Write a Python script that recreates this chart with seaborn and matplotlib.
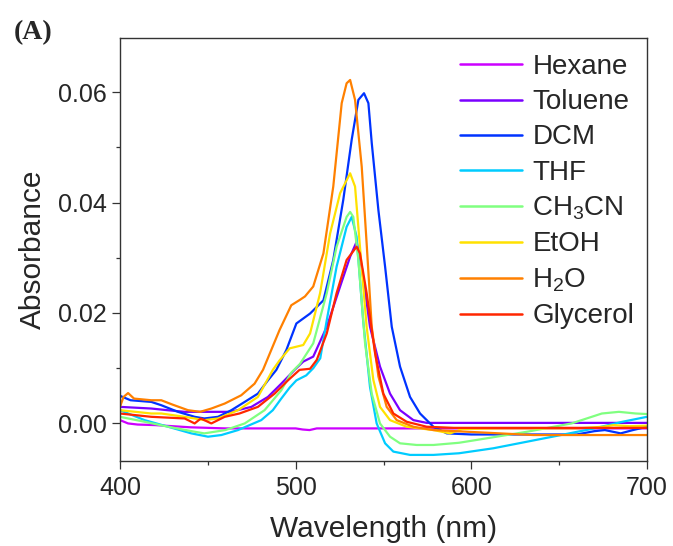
import matplotlib
matplotlib.use('Agg')
import matplotlib.pyplot as plt
from matplotlib.ticker import MultipleLocator
import seaborn as sns
import pandas as pd

# solvent names and colours
solvents = ['Hexane', 'Toluene', 'DCM', 'THF', 'CH3CN', 'EtOH', 'H2O', 'Glycerol']
legend_labels = ['Hexane', 'Toluene', 'DCM', 'THF', r'CH$_3$CN', 'EtOH', r'H$_2$O', 'Glycerol']
colors = ['#cc00ff', '#7a00ff', '#0033ff', '#00ccff', '#80ff80', '#ffe100', '#ff8000', '#ff2600']

# spectra (wavelength nm, absorbance)
wl_hexane = [400, 404.6, 410, 420, 440, 460, 480, 500, 504, 507.9, 512, 530, 560, 600, 650, 700]
abs_hexane = [0.0006, 0.0000, -0.0002, -0.0003, -0.0007, -0.0009, -0.0009, -0.0009, -0.0011, -0.0012,
              -0.0009, -0.0009, -0.0009, -0.0009, -0.0009, -0.0009]

wl_toluene = [400, 417.8, 427, 436.8, 450, 463, 474.8, 484.2, 491.8, 499.4, 504.3, 510, 517.7, 525.3, 531,
              534.7, 537.6, 542.3, 548, 553.7, 559.4, 567, 574.6, 580, 620, 660, 700]
abs_toluene = [0.0030, 0.0027, 0.0024, 0.0021, 0.0021, 0.0021, 0.0030, 0.0048, 0.0072, 0.0097, 0.0112, 0.0121,
               0.0175, 0.0248, 0.0302, 0.0329, 0.0284, 0.0175, 0.0103, 0.0054, 0.0024, 0.0006, 0.0001, 0.0001,
               0.0001, 0.0001, 0.0001]

wl_dcm = [400, 406, 417.8, 423.5, 433, 442.5, 448, 455.8, 463.4, 471, 478.5, 484.2, 489, 494.7, 500.4, 508.2,
          515.8, 521.4, 527.1, 531.9, 535.7, 538.9, 541.4, 543.3, 547.1, 550.9, 554.7, 559.4, 565.1, 570.8,
          578.4, 586, 600, 630, 660, 670, 676, 685, 692, 700]
abs_dcm = [0.0050, 0.0042, 0.0039, 0.0033, 0.0021, 0.0012, 0.0009, 0.0012, 0.0024, 0.0039, 0.0054, 0.0078,
           0.0097, 0.0133, 0.0181, 0.0199, 0.0223, 0.0296, 0.0405, 0.0514, 0.0586, 0.0598, 0.0580, 0.0508,
           0.0386, 0.0284, 0.0175, 0.0103, 0.0048, 0.0018, -0.0006, -0.0018, -0.0020, -0.0020, -0.0020,
           -0.0014, -0.0012, -0.0018, -0.0012, -0.0006]

wl_thf = [400, 414, 427.4, 440.6, 450.1, 457.7, 467.2, 480.4, 487, 491.8, 496.6, 500.4, 506, 510, 514, 517.7,
          523.3, 529, 531.9, 534.7, 538.4, 542.3, 546.1, 550.9, 555.6, 565.1, 578.4, 593, 612.5, 631.8, 651,
          670, 686, 700]
abs_thf = [0.0024, 0.0006, -0.0006, -0.0018, -0.0024, -0.0021, -0.0012, 0.0006, 0.0024, 0.0045, 0.0065, 0.0078,
           0.0087, 0.0100, 0.0118, 0.0187, 0.0284, 0.0356, 0.0374, 0.0338, 0.0187, 0.0066, 0.0000, -0.0036,
           -0.0051, -0.0057, -0.0057, -0.0054, -0.0045, -0.0033, -0.0021, -0.0009, 0.0003, 0.0012]

wl_ch3cn = [400, 414, 427.4, 442.5, 448, 460, 471, 482.3, 491.8, 497.5, 502.5, 510, 517.7, 523.3, 529, 531,
            532.8, 535.7, 539.5, 543.3, 548, 553.7, 559.4, 568.9, 578.4, 593, 602.8, 631.8, 657, 674.3, 684,
            693.6, 700]
abs_ch3cn = [0.0012, 0.0003, -0.0006, -0.0015, -0.0018, -0.0012, 0.0000, 0.0024, 0.0060, 0.0092, 0.0108,
             0.0145, 0.0236, 0.0320, 0.0374, 0.0383, 0.0374, 0.0296, 0.0145, 0.0054, 0.0000, -0.0024, -0.0036,
             -0.0039, -0.0039, -0.0035, -0.0030, -0.0015, 0.0000, 0.0018, 0.0021, 0.0018, 0.0017]

wl_etoh = [400, 417.8, 423.5, 436.8, 448, 455.8, 467.2, 478.5, 487, 490.8, 496.6, 504.3, 508.2, 513.9, 519.6,
           525.3, 531, 533.8, 536.6, 540.4, 544.2, 548, 553.7, 563.2, 578.4, 587.9, 595, 620, 660, 675, 681,
           690, 700]
abs_etoh = [0.0024, 0.0018, 0.0018, 0.0012, 0.0006, 0.0009, 0.0024, 0.0048, 0.0097, 0.0114, 0.0136, 0.0142,
            0.0163, 0.0236, 0.0344, 0.0417, 0.0453, 0.0429, 0.0320, 0.0175, 0.0079, 0.0030, 0.0006, -0.0006,
            -0.0012, -0.0018, -0.0010, -0.0009, -0.0009, -0.0006, -0.0003, -0.0005, -0.0004]

wl_h2o = [400, 402, 404.6, 408, 417.8, 423.5, 430, 438.7, 445.6, 452, 459.6, 469, 476.6, 481.4, 490.8, 497.5,
          502.5, 505.3, 510, 515.8, 521.4, 526.2, 529, 531, 533.8, 537.6, 540.4, 543.3, 547.1, 551.8, 557.5,
          567, 578.4, 597.4, 616.3, 635.3, 660, 700]
abs_h2o = [0.0030, 0.0048, 0.0055, 0.0045, 0.0042, 0.0042, 0.0034, 0.0024, 0.0021, 0.0027, 0.0036, 0.0051,
           0.0072, 0.0097, 0.0169, 0.0214, 0.0224, 0.0230, 0.0248, 0.0308, 0.0429, 0.0580, 0.0616, 0.0622,
           0.0586, 0.0465, 0.0326, 0.0175, 0.0085, 0.0030, 0.0006, -0.0006, -0.0012, -0.0015, -0.0018,
           -0.0021, -0.0021, -0.0021]

wl_glycerol = [400, 417.8, 436.8, 442.5, 446, 452, 459.6, 468, 478.5, 488, 495.6, 502.2, 508.2, 512, 517.7,
               523.3, 529, 534.7, 536.6, 540.4, 545.2, 549.9, 555.6, 563.2, 574.6, 590, 620, 660, 700]
abs_glycerol = [0.0018, 0.0012, 0.0009, 0.0000, 0.0009, 0.0000, 0.0012, 0.0018, 0.0030, 0.0054, 0.0078,
                0.0097, 0.0099, 0.0115, 0.0163, 0.0236, 0.0296, 0.0320, 0.0308, 0.0236, 0.0127, 0.0054,
                0.0018, 0.0003, -0.0006, -0.0008, -0.0008, -0.0008, -0.0008]

spectra = {
    'Hexane': (wl_hexane, abs_hexane),
    'Toluene': (wl_toluene, abs_toluene),
    'DCM': (wl_dcm, abs_dcm),
    'THF': (wl_thf, abs_thf),
    'CH3CN': (wl_ch3cn, abs_ch3cn),
    'EtOH': (wl_etoh, abs_etoh),
    'H2O': (wl_h2o, abs_h2o),
    'Glycerol': (wl_glycerol, abs_glycerol),
}

# long table for seaborn
rows = []
for name in solvents:
    for w, a in zip(*spectra[name]):
        rows.append({'Wavelength': w, 'Absorbance': a, 'Solvent': name})
df = pd.DataFrame(rows)

sns.set_theme(style='ticks')
plt.rcParams['font.family'] = ['Liberation Sans', 'DejaVu Sans']
plt.rcParams['mathtext.fontset'] = 'custom'
plt.rcParams['mathtext.rm'] = 'Liberation Sans'
plt.rcParams['mathtext.it'] = 'Liberation Sans:italic'
plt.rcParams['mathtext.bf'] = 'Liberation Sans:bold'

fig = plt.figure(figsize=(6.73, 5.46), dpi=100)
ax = fig.add_axes([0.1783, 0.1557, 0.7831, 0.7747])

sns.lineplot(data=df, x='Wavelength', y='Absorbance', hue='Solvent', hue_order=solvents,
             palette=colors, sort=False, estimator=None, linewidth=1.6, ax=ax, legend=False)

ax.set_xlim(400, 700)
ax.set_ylim(-0.0068, 0.0698)
ax.xaxis.set_major_locator(MultipleLocator(100))
ax.xaxis.set_minor_locator(MultipleLocator(50))
ax.yaxis.set_major_locator(MultipleLocator(0.02))
ax.yaxis.set_minor_locator(MultipleLocator(0.01))
ax.yaxis.set_major_formatter(matplotlib.ticker.FormatStrFormatter('%.2f'))

ax.tick_params(axis='both', which='major', direction='out', length=5.5, width=0.9,
               labelsize=18, color='#333333', top=False, right=False)
ax.tick_params(axis='both', which='minor', direction='out', length=2.8, width=0.9,
               color='#333333', top=False, right=False)
ax.tick_params(axis='x', which='major', pad=5)
ax.tick_params(axis='y', which='major', pad=4)

for side in ['top', 'right', 'left', 'bottom']:
    ax.spines[side].set_visible(True)
    ax.spines[side].set_linewidth(1.0)
    ax.spines[side].set_color('#333333')

ax.set_xlabel('Wavelength (nm)', fontsize=21.5, labelpad=11)
ax.set_ylabel('Absorbance', fontsize=21.5, labelpad=8)

# legend
handles = [plt.Line2D([], [], color=c, linewidth=1.8) for c in colors]
ax.legend(handles, legend_labels, loc='upper left', bbox_to_anchor=(0.645, 0.962),
          frameon=False, fontsize=20, handlelength=2.25, handletextpad=0.36,
          labelspacing=0.33, borderpad=0, borderaxespad=0)

fig.text(0.021, 0.94, '(A)', fontsize=20, fontweight='bold', family='Liberation Serif',
         ha='left', va='center')

fig.savefig('out.png', dpi=100)
